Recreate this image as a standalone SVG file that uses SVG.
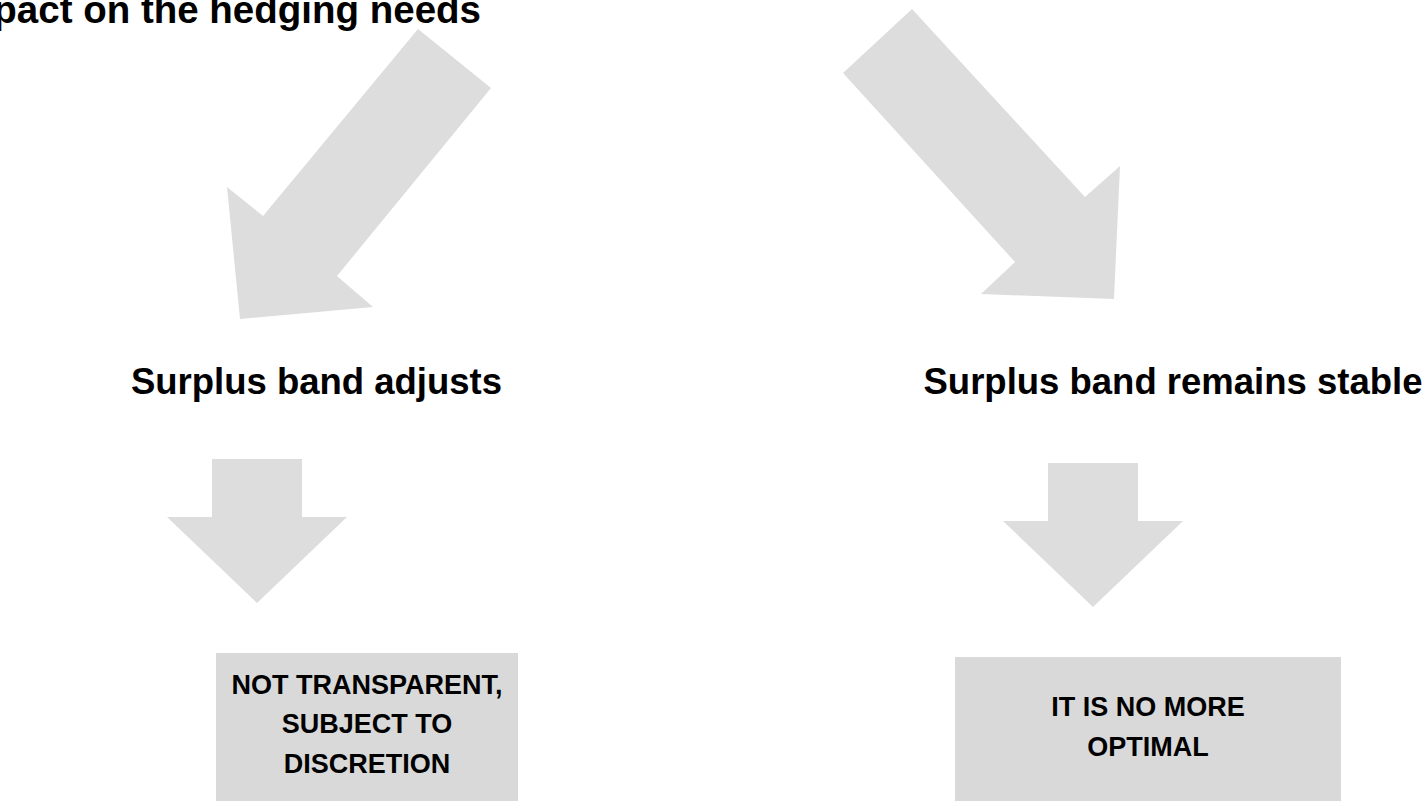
<svg xmlns="http://www.w3.org/2000/svg" width="1427" height="801" viewBox="0 0 1427 801">
<style>
.arrow{fill:#dddddd;stroke:none}
.box{fill:#d9d9d9;stroke:none}
.t{font-family:"Liberation Sans",Arial,Helvetica,sans-serif;font-weight:bold;fill:#000000}
.big{font-size:36.5px}
.top{font-size:38.5px}
.bx{font-size:27px;text-anchor:middle}
</style>
<rect width="1427" height="801" fill="#ffffff"/>
<g id="title">
<text class="t top" x="481" y="23" text-anchor="end">pact on the hedging needs</text>
</g>
<g id="connectors">
<polygon class="arrow" points="418,29 491,88 337,276 373,307 240,319 227,187 263,216"/>
<polygon class="arrow" points="912,9 843,73 1015,262 981,294 1114,299 1120,166 1085,197"/>
<polygon class="arrow" points="212,459 302,459 302,517 347,517 257,603 167,517 212,517"/>
<polygon class="arrow" points="1048,463 1138,463 1138,521 1183,521 1093,607 1003,521 1048,521"/>
</g>
<g id="node-adjusts">
<text class="t big" x="316.5" y="394" text-anchor="middle">Surplus band adjusts</text>
</g>
<g id="node-stable">
<text class="t big" x="1173" y="394" text-anchor="middle">Surplus band remains stable</text>
</g>
<g id="node-not-transparent">
<rect class="box" x="216" y="653" width="302" height="148"/>
<text class="t bx" x="367" y="694">NOT TRANSPARENT,</text>
<text class="t bx" x="367" y="733">SUBJECT TO</text>
<text class="t bx" x="367" y="773">DISCRETION</text>
</g>
<g id="node-not-optimal">
<rect class="box" x="955" y="657" width="386" height="144"/>
<text class="t bx" x="1148" y="716">IT IS NO MORE</text>
<text class="t bx" x="1148" y="756">OPTIMAL</text>
</g>
</svg>
